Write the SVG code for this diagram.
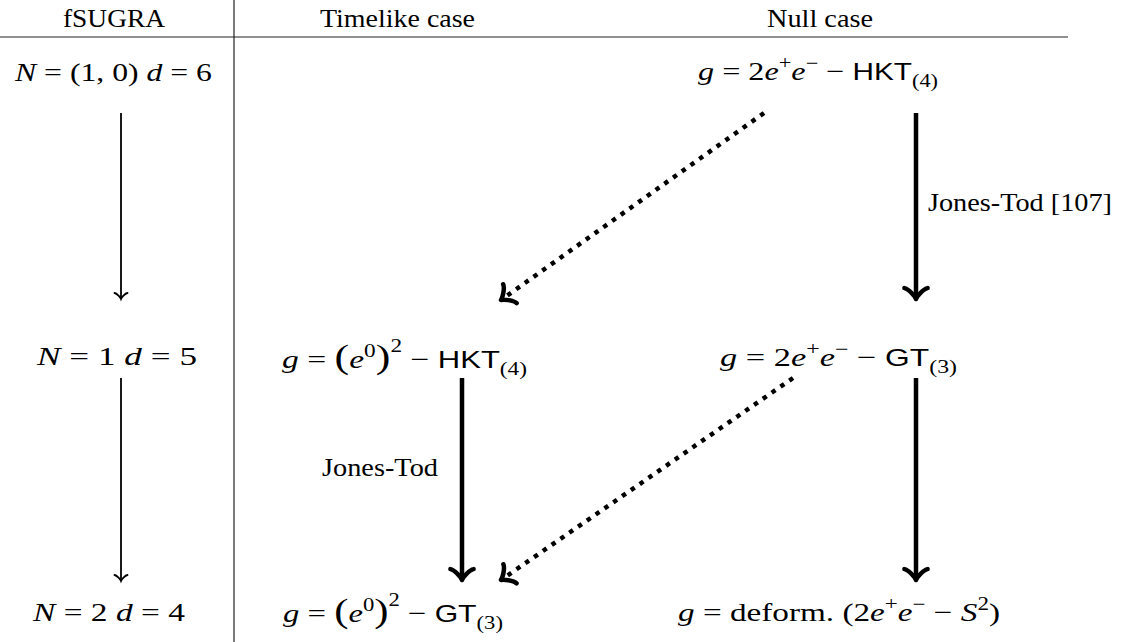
<svg xmlns="http://www.w3.org/2000/svg" width="1123" height="642" viewBox="0 0 1123 642">
<style>
text { font-family: "Liberation Serif", "DejaVu Serif", serif; font-size: 26px; fill: #000; }
.i { font-style: italic; }
.sf { font-family: "Liberation Sans", "DejaVu Sans", sans-serif; font-size: 24px; }
.sup { font-size: 18px; }
.sub { font-size: 18px; }
.big { font-size: 34px; }
.rule { stroke: #222; stroke-width: 1.2; fill: none; }
.thin { stroke: #000; stroke-width: 1.8; fill: none; }
.thick { stroke: #000; stroke-width: 4.5; fill: none; }
.dot { stroke: #000; stroke-width: 4.5; fill: none; stroke-dasharray: 4.5 6.2; }
</style>
<defs>
<marker id="hThin" markerUnits="userSpaceOnUse" orient="auto" refX="0" refY="0" markerWidth="20" markerHeight="20" viewBox="-10 -10 20 20" overflow="visible">
<path d="M-6,6.5 C-5.7,4 -1.2,0.45 0,0 C-1.2,-0.45 -5.7,-4 -6,-6.5" fill="none" stroke="#000" stroke-width="1.8" stroke-linecap="round" stroke-dasharray="none"/>
</marker>
<marker id="hThick" markerUnits="userSpaceOnUse" orient="auto" refX="0" refY="0" markerWidth="40" markerHeight="40" viewBox="-20 -20 40 40" overflow="visible">
<path d="M-10.9,11.6 C-10.2,7.25 -2.2,0.7 0,0 C-2.2,-0.7 -10.2,-7.25 -10.9,-11.6" fill="none" stroke="#000" stroke-width="4.5" stroke-linecap="round" stroke-linejoin="round" stroke-dasharray="none"/>
</marker>
</defs>
<rect width="1123" height="642" fill="#fff"/>

<g id="table">
<line class="rule" x1="0" y1="37" x2="1068" y2="37"/>
<line class="rule" x1="234" y1="0" x2="234" y2="642"/>
<text x="63" y="27" textLength="102" lengthAdjust="spacingAndGlyphs">fSUGRA</text>
<text x="320" y="27" textLength="155" lengthAdjust="spacingAndGlyphs">Timelike case</text>
<text x="767" y="27" textLength="106" lengthAdjust="spacingAndGlyphs">Null case</text>
</g>

<g id="n-fsugra-6">
<text x="15" y="81" textLength="197" lengthAdjust="spacingAndGlyphs"><tspan class="i">N</tspan> = (1, 0) <tspan class="i">d</tspan> = 6</text>
</g>
<g id="n-fsugra-5">
<text x="37" y="365" textLength="160" lengthAdjust="spacingAndGlyphs"><tspan class="i">N</tspan> = 1 <tspan class="i">d</tspan> = 5</text>
</g>
<g id="n-fsugra-4">
<text x="33" y="621" textLength="152" lengthAdjust="spacingAndGlyphs"><tspan class="i">N</tspan> = 2 <tspan class="i">d</tspan> = 4</text>
</g>

<g id="n-null-hkt">
<text x="698" y="80" textLength="240" lengthAdjust="spacingAndGlyphs"><tspan class="i">g</tspan> = 2<tspan class="i">e</tspan><tspan class="sup" dy="-11">+</tspan><tspan class="i" dy="11">e</tspan><tspan class="sup" dy="-11">−</tspan><tspan dy="11"> − </tspan><tspan class="sf">HKT</tspan><tspan class="sub" dy="7">(4)</tspan></text>
</g>
<g id="n-time-hkt">
<text x="282" y="368" textLength="245" lengthAdjust="spacingAndGlyphs"><tspan class="i">g</tspan> = <tspan class="big">(</tspan><tspan class="i">e</tspan><tspan class="sup" dy="-11">0</tspan><tspan class="big" dy="11">)</tspan><tspan class="sup" dy="-16">2</tspan><tspan dy="16"> − </tspan><tspan class="sf">HKT</tspan><tspan class="sub" dy="7">(4)</tspan></text>
</g>
<g id="n-null-gt">
<text x="720" y="366" textLength="237" lengthAdjust="spacingAndGlyphs"><tspan class="i">g</tspan> = 2<tspan class="i">e</tspan><tspan class="sup" dy="-11">+</tspan><tspan class="i" dy="11">e</tspan><tspan class="sup" dy="-11">−</tspan><tspan dy="11"> − </tspan><tspan class="sf">GT</tspan><tspan class="sub" dy="7">(3)</tspan></text>
</g>
<g id="n-time-gt">
<text x="283" y="622" textLength="220" lengthAdjust="spacingAndGlyphs"><tspan class="i">g</tspan> = <tspan class="big">(</tspan><tspan class="i">e</tspan><tspan class="sup" dy="-11">0</tspan><tspan class="big" dy="11">)</tspan><tspan class="sup" dy="-16">2</tspan><tspan dy="16"> − </tspan><tspan class="sf">GT</tspan><tspan class="sub" dy="7">(3)</tspan></text>
</g>
<g id="n-null-deform">
<text x="678" y="621" textLength="322" lengthAdjust="spacingAndGlyphs"><tspan class="i">g</tspan> = deform. (2<tspan class="i">e</tspan><tspan class="sup" dy="-11">+</tspan><tspan class="i" dy="11">e</tspan><tspan class="sup" dy="-11">−</tspan><tspan dy="11"> − </tspan><tspan class="i">S</tspan><tspan class="sup" dy="-11">2</tspan><tspan dy="11">)</tspan></text>
</g>

<g id="connectors">
<line class="thin" x1="121" y1="113" x2="121" y2="299" marker-end="url(#hThin)"/>
<line class="thin" x1="121" y1="378" x2="121" y2="581" marker-end="url(#hThin)"/>
<line class="thick" x1="916" y1="113" x2="916" y2="299" marker-end="url(#hThick)"/>
<line class="thick" x1="916" y1="378" x2="916" y2="580" marker-end="url(#hThick)"/>
<line class="thick" x1="462" y1="378" x2="462" y2="580" marker-end="url(#hThick)"/>
<line class="dot" x1="764" y1="113" x2="501" y2="300" marker-end="url(#hThick)"/>
<line class="dot" x1="793" y1="378" x2="501" y2="580" marker-end="url(#hThick)"/>
<text x="928" y="211" textLength="184" lengthAdjust="spacingAndGlyphs">Jones-Tod [107]</text>
<text x="322" y="476" textLength="116" lengthAdjust="spacingAndGlyphs">Jones-Tod</text>
</g>
</svg>
